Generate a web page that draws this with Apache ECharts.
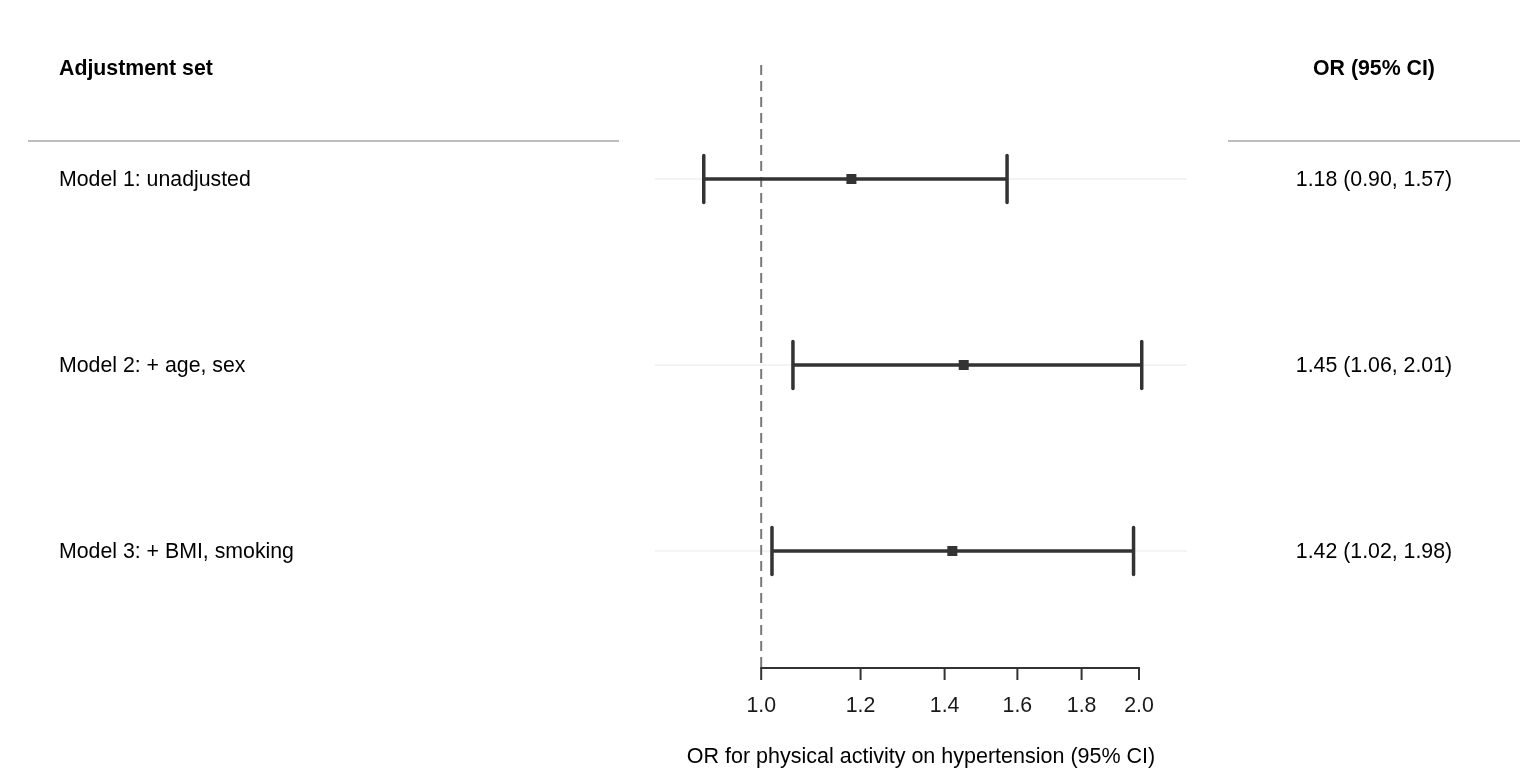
<!DOCTYPE html>
<html><head><meta charset="utf-8">
<script src="https://cdn.jsdelivr.net/npm/echarts@6/dist/echarts.min.js"></script>
<style>html,body{margin:0;padding:0;background:#fff}#c{width:1536px;height:768px}</style>
</head><body><div id="c"></div>
<script>
// ---- data ----
const models = ['Model 1: unadjusted', 'Model 2: + age, sex', 'Model 3: + BMI, smoking'];
const orValues = [1.18, 1.45, 1.42];
const lowerCI = [0.90, 1.06, 1.02];
const upperCI = [1.57, 2.01, 1.98];
const tickValues = [1.0, 1.2, 1.4, 1.6, 1.8, 2.0];
const tickLabels = ['1.0', '1.2', '1.4', '1.6', '1.8', '2.0'];
const headerLeft = 'Adjustment set';
const headerRight = 'OR (95% CI)';
const xTitle = 'OR for physical activity on hypertension (95% CI)';
const refValue = 1.0;

// ---- layout / style ----
const FONT = '"Liberation Sans", Arial, Helvetica, sans-serif';
const FS = 21.3;
const xMin = Math.log(0.823), xMax = Math.log(2.184);
const yMin = 0.387, yMax = 3.629;
const DARK = '#333333';

const rows = models.map((m, i) => [i + 1, Math.log(lowerCI[i]), Math.log(upperCI[i]), Math.log(orValues[i])]);
const ciText = orValues.map((v, i) => `${v.toFixed(2)} (${lowerCI[i].toFixed(2)}, ${upperCI[i].toFixed(2)})`);

const chart = echarts.init(document.getElementById('c'), null, {renderer: 'canvas'});
chart.setOption({
  animation: false,
  backgroundColor: '#ffffff',
  grid: {left: 655, right: 349, top: 65, bottom: 100},
  xAxis: {type: 'value', min: xMin, max: xMax, show: false},
  yAxis: {type: 'value', min: yMin, max: yMax, inverse: true, show: false},
  graphic: [
    {type: 'text', x: 59, y: 69.5, style: {text: headerLeft, font: `bold ${FS}px ${FONT}`, fill: '#000', textAlign: 'left', textVerticalAlign: 'middle'}},
    {type: 'text', x: 1374, y: 69.5, style: {text: headerRight, font: `bold ${FS}px ${FONT}`, fill: '#000', textAlign: 'center', textVerticalAlign: 'middle'}},
    {type: 'line', shape: {x1: 28, y1: 141, x2: 619, y2: 141}, style: {stroke: '#bdbdbd', lineWidth: 2}},
    {type: 'line', shape: {x1: 1228, y1: 141, x2: 1520, y2: 141}, style: {stroke: '#bdbdbd', lineWidth: 2}},
    {type: 'text', x: 921, y: 757, style: {text: xTitle, font: `21.5px ${FONT}`, fill: '#000', textAlign: 'center', textVerticalAlign: 'middle'}}
  ],
  series: [
    { // horizontal row grid lines
      type: 'custom', silent: true,
      data: rows.map(r => [r[0]]),
      renderItem: (params, api) => {
        const a = api.coord([xMin, api.value(0)]), b = api.coord([xMax, api.value(0)]);
        return {type: 'line', shape: {x1: a[0], y1: a[1], x2: b[0], y2: b[1]}, style: {stroke: '#e8e8e8', lineWidth: 1}};
      }
    },
    { // reference line
      type: 'custom', silent: true,
      data: [[Math.log(refValue)]],
      renderItem: (params, api) => {
        const a = api.coord([api.value(0), yMin]), b = api.coord([api.value(0), yMax]);
        return {type: 'line', shape: {x1: a[0], y1: a[1], x2: b[0], y2: b[1]}, style: {stroke: '#7a7a7a', lineWidth: 2, lineDash: [10, 6]}};
      }
    },
    { // x axis line, ticks, labels
      type: 'custom', silent: true,
      data: tickValues.map((v, i) => [Math.log(v), i]),
      renderItem: (params, api) => {
        const p = api.coord([api.value(0), yMax]);
        const children = [
          {type: 'line', shape: {x1: p[0], y1: p[1], x2: p[0], y2: p[1] + 12}, style: {stroke: DARK, lineWidth: 2}},
          {type: 'text', style: {x: p[0], y: p[1] + 38, text: tickLabels[api.value(1)], font: `${FS}px ${FONT}`, fill: '#1a1a1a', textAlign: 'center', textVerticalAlign: 'middle'}}
        ];
        if (params.dataIndex === 0) {
          const e = api.coord([Math.log(tickValues[tickValues.length - 1]), yMax]);
          children.push({type: 'line', shape: {x1: p[0] - 1, y1: p[1], x2: e[0] + 1, y2: e[1]}, style: {stroke: DARK, lineWidth: 2}});
        }
        return {type: 'group', children};
      }
    },
    { // error bars + points
      type: 'custom', silent: true,
      data: rows,
      renderItem: (params, api) => {
        const y = api.value(0);
        const lo = api.coord([api.value(1), y]), hi = api.coord([api.value(2), y]), pt = api.coord([api.value(3), y]);
        const cap = 23.5;
        const st = {stroke: DARK, lineWidth: 3.5, lineCap: 'round'};
        return {type: 'group', children: [
          {type: 'line', shape: {x1: lo[0], y1: lo[1], x2: hi[0], y2: hi[1]}, style: {stroke: DARK, lineWidth: 3.5}},
          {type: 'line', shape: {x1: lo[0], y1: lo[1] - cap, x2: lo[0], y2: lo[1] + cap}, style: st},
          {type: 'line', shape: {x1: hi[0], y1: hi[1] - cap, x2: hi[0], y2: hi[1] + cap}, style: st},
          {type: 'rect', shape: {x: pt[0] - 5, y: pt[1] - 5, width: 10, height: 10}, style: {fill: DARK}}
        ]};
      }
    },
    { // row text columns
      type: 'custom', silent: true,
      data: rows.map((r, i) => [r[0], i]),
      renderItem: (params, api) => {
        const y = api.coord([xMin, api.value(0)])[1] + 1.5;
        const i = api.value(1);
        return {type: 'group', children: [
          {type: 'text', style: {x: 59, y: y, text: models[i], font: `${FS}px ${FONT}`, fill: '#000', textAlign: 'left', textVerticalAlign: 'middle'}},
          {type: 'text', style: {x: 1374, y: y, text: ciText[i], font: `${FS}px ${FONT}`, fill: '#000', textAlign: 'center', textVerticalAlign: 'middle'}}
        ]};
      }
    }
  ]
});
</script>
</body></html>
